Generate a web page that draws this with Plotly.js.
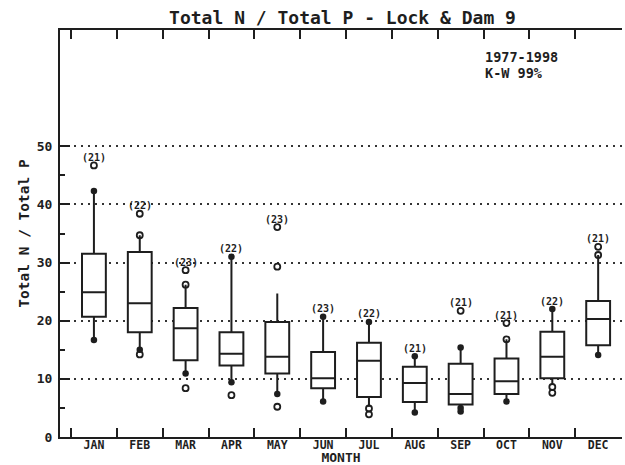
<!DOCTYPE html>
<html>
<head>
<meta charset="utf-8">
<script src="https://cdn.plot.ly/plotly-3.0.1.min.js"></script>
<style>html,body{margin:0;padding:0;background:#fff}</style>
</head>
<body>
<div id="chart" style="width:625px;height:465px"></div>
<script>
// Monthly Total N / Total P ratio, Lock & Dam 9, 1977-1998
const months = ['JAN','FEB','MAR','APR','MAY','JUN','JUL','AUG','SEP','OCT','NOV','DEC'];
const sampleCounts = [21, 22, 23, 22, 23, 23, 22, 21, 21, 21, 22, 21];

const q1      = [20.7, 18.0, 13.2, 12.3, 10.9,  8.4,  6.9,  6.0,  5.6,  7.4, 10.1, 15.8];
const medians = [24.9, 23.0, 18.7, 14.3, 13.8, 10.1, 13.1,  9.3,  7.4,  9.6, 13.8, 20.3];
const q3      = [31.5, 31.8, 22.2, 18.0, 19.8, 14.6, 16.2, 12.1, 12.6, 13.5, 18.1, 23.4];
const upperWhisker = [42.3, 34.7, 26.2, 31.0, 24.7, 20.7, 19.8, 13.9, 15.4, 16.8, 22.0, 31.3];
const lowerWhisker = [16.7, 15.0, 10.9,  9.4,  7.4,  6.1,  5.2,  4.2,  5.0,  6.1,  9.0, 14.1];

// individual observations drawn as filled dots
const solidMonth = ['JAN','JAN','FEB','MAR','APR','APR','MAY','JUN','JUN','JUL','AUG','AUG','SEP','SEP','SEP','OCT','NOV','DEC'];
const solidValue = [42.3, 16.7, 15.0, 10.9, 31.0, 9.4, 7.4, 20.7, 6.1, 19.8, 13.9, 4.2, 15.4, 5.0, 4.4, 6.1, 22.0, 14.1];

// individual observations drawn as open circles
const openMonth = ['JAN','FEB','FEB','FEB','MAR','MAR','MAR','APR','MAY','MAY','MAY','JUL','JUL','SEP','OCT','OCT','NOV','NOV','DEC','DEC'];
const openValue = [46.7, 38.4, 34.7, 14.2, 28.7, 26.2, 8.4, 7.2, 36.1, 29.3, 5.2, 4.9, 3.9, 21.7, 19.6, 16.8, 8.6, 7.6, 32.7, 31.3];

const yTickVals = [0, 10, 20, 30, 40, 50];
const yMinorVals = [5, 15, 25, 35, 45];

const ink = '#1e1e1e';
const mono = 'DejaVu Sans Mono';

const boxes = {
  type: 'box',
  x: months,
  q1: q1,
  median: medians,
  q3: q3,
  lowerfence: lowerWhisker,
  upperfence: upperWhisker,
  boxpoints: false,
  width: 0.52,
  whiskerwidth: 0,
  fillcolor: 'white',
  line: {color: ink, width: 2},
  hoverinfo: 'skip',
  showlegend: false
};

const solidDots = {
  type: 'scatter', mode: 'markers',
  x: solidMonth, y: solidValue,
  marker: {symbol: 'circle', size: 6.5, color: ink},
  hoverinfo: 'skip', showlegend: false, cliponaxis: false
};

const openDots = {
  type: 'scatter', mode: 'markers',
  x: openMonth, y: openValue,
  marker: {symbol: 'circle-open', size: 6, color: ink, line: {width: 1.8, color: ink}},
  hoverinfo: 'skip', showlegend: false, cliponaxis: false
};

// sample-count labels sit just above the highest mark of each month
const countNotes = months.map((m, i) => {
  let top = upperWhisker[i];
  solidMonth.forEach((mm, k) => { if (mm === m) top = Math.max(top, solidValue[k]); });
  openMonth.forEach((mm, k) => { if (mm === m) top = Math.max(top, openValue[k]); });
  return {
    x: m, y: top, xref: 'x', yref: 'y',
    text: '(' + sampleCounts[i] + ')',
    showarrow: false, yshift: 8,
    font: {family: mono, size: 10, color: ink, weight: 'bold'}
  };
});

const layout = {
  width: 625, height: 465,
  margin: {l: 60, r: 3, t: 30, b: 28},
  paper_bgcolor: 'white', plot_bgcolor: 'white',
  title: {
    text: 'Total N / Total P - Lock & Dam 9',
    x: 0.548, xanchor: 'center', xref: 'container',
    y: 0.963, yanchor: 'middle', yref: 'container',
    font: {family: mono, size: 18, color: ink, weight: 'bold'}
  },
  xaxis: {
    type: 'category',
    range: [-0.74, 11.52],
    tickson: 'boundaries',
    ticks: 'inside', ticklen: 9, tickwidth: 2, tickcolor: ink,
    showline: true, linecolor: ink, linewidth: 2, mirror: 'ticks',
    showgrid: false, zeroline: false,
    ticklabelstandoff: -4,
    tickfont: {family: mono, size: 11.5, color: ink, weight: 'bold'},
    title: {text: 'MONTH', standoff: 1, font: {family: mono, size: 13, color: ink, weight: 'bold'}},
    automargin: false, fixedrange: true
  },
  yaxis: {
    range: [0, 70],
    tickmode: 'array', tickvals: yTickVals,
    ticks: 'inside', ticklen: 10, tickwidth: 2, tickcolor: ink,
    minor: {tickmode: 'array', tickvals: yMinorVals, ticks: 'inside', ticklen: 5, tickwidth: 2, tickcolor: ink, showgrid: false},
    showline: true, linecolor: ink, linewidth: 2, mirror: false,
    showgrid: true, gridcolor: '#333', gridwidth: 2, griddash: '2px,5px',
    zeroline: false,
    ticklabelstandoff: 3,
    tickfont: {family: mono, size: 13, color: ink, weight: 'bold'},
    title: {text: 'Total N / Total P', standoff: 4, font: {family: mono, size: 14.5, color: ink, weight: 'bold'}},
    automargin: false, fixedrange: true
  },
  annotations: countNotes.concat([
    {xref: 'paper', yref: 'paper', x: 0.753, y: 0.934, xanchor: 'left', yanchor: 'middle',
     text: '1977-1998', showarrow: false, font: {family: mono, size: 13.5, color: ink, weight: 'bold'}},
    {xref: 'paper', yref: 'paper', x: 0.753, y: 0.894, xanchor: 'left', yanchor: 'middle',
     text: 'K-W 99%', showarrow: false, font: {family: mono, size: 13.5, color: ink, weight: 'bold'}}
  ])
};

Plotly.newPlot('chart', [boxes, solidDots, openDots], layout, {displayModeBar: false, staticPlot: true});
</script>
</body>
</html>
